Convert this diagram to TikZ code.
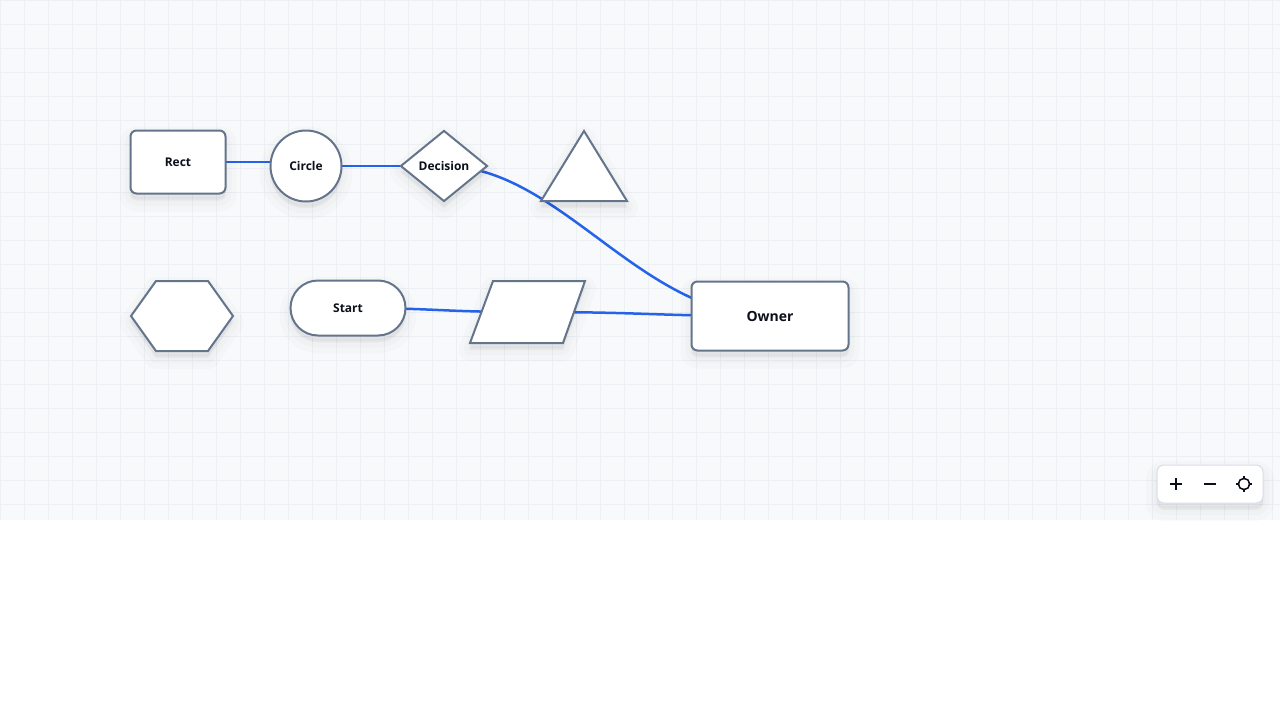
\documentclass[tikz,border=0pt]{standalone}
\usepackage{fontspec}
\setmainfont{Open Sans}
\usepackage{tikz}
\usetikzlibrary{shapes.geometric, shapes.misc}
\definecolor{edgeblue}{HTML}{2563EB}
\definecolor{nodegray}{HTML}{64748B}
\definecolor{canvasbg}{HTML}{F8F9FB}
\definecolor{gridgray}{HTML}{ECEFF4}
\definecolor{inkdark}{HTML}{0B0F19}
\definecolor{panelline}{HTML}{D8DEE7}
\pgfdeclarelayer{background}
\pgfdeclarelayer{edges}
\pgfsetlayers{background,edges,main}

\begin{document}
\begin{tikzpicture}[x={(1pt,0pt)}, y={(0pt,-1pt)},
  softshadow/.style={
    preaction={draw=black, fill=black, draw opacity=0.014, fill opacity=0.014, line width=22pt, line join=round, transform canvas={yshift=-7pt}},
    preaction={draw=black, fill=black, draw opacity=0.016, fill opacity=0.016, line width=12pt, line join=round, transform canvas={yshift=-6pt}},
    preaction={draw=black, fill=black, draw opacity=0.016, fill opacity=0.016, line width=4pt, line join=round, transform canvas={yshift=-5pt}}},
  shapebox/.style={draw=nodegray, line width=2pt, fill=white, text=inkdark, inner sep=0pt,
    font=\fontsize{12}{14}\selectfont\bfseries, softshadow},
  link/.style={draw=edgeblue, line width=2.5pt},
  icon/.style={draw=inkdark, line width=1.8pt}]
  \useasboundingbox (0,0) rectangle (1280,720);

  % canvas with grid
  \begin{pgfonlayer}{background}
    \fill[white] (0,0) rectangle (1280,720);
    \fill[canvasbg] (0,0) rectangle (1280,520);
    \foreach \gx in {0,24,...,1272}
      \draw[gridgray, line width=1pt] (\gx,0) -- (\gx,520);
    \foreach \gy in {0,24,...,504}
      \draw[gridgray, line width=1pt] (0,\gy) -- (1280,\gy);
  \end{pgfonlayer}

  % first row
  \node[shapebox, rectangle, rounded corners=6pt, minimum width=95pt, minimum height=63pt] (rect) at (178,162) {Rect};
  \node[shapebox, circle, minimum size=71pt] (circle) at (306,166) {Circle};
  \node[shapebox, diamond, aspect=1.22, minimum width=87pt, minimum height=71pt] (decision) at (444,166) {Decision};
  \draw[shapebox] (584,131) -- (627,201) -- (541,201) -- cycle;

  % second row
  \draw[shapebox] (131,316) -- (156,281) -- (208,281) -- (233,316) -- (208,351) -- (156,351) -- cycle;
  \node[shapebox, rounded rectangle, minimum width=115pt, minimum height=55pt] (start) at (348,308) {Start};
  \draw[shapebox] (493,281) -- (585,281) -- (563,343) -- (470,343) -- cycle;
  \coordinate (para) at (528,312);
  \node[shapebox, rectangle, rounded corners=6pt, minimum width=157pt, minimum height=69pt,
    font=\fontsize{14}{16}\selectfont\bfseries] (owner) at (770,316) {Owner};

  % connectors
  \begin{pgfonlayer}{edges}
    \draw[link] (rect.center) -- (rect.center -| circle.center);
    \draw[link] (circle.center) -- (decision.center);
    \draw[link] (decision.center) .. controls +(116,0) and +(-130,0) .. (owner.center);
    \draw[link] (start.center) .. controls +(90,0) and +(-90,0) .. (para);
    \draw[link] (para) .. controls +(120,0) and +(-120,0) .. (owner.center);
  \end{pgfonlayer}

  % zoom controls
  \node[draw=panelline, line width=1pt, fill=white, rectangle, rounded corners=7pt,
    minimum width=106pt, minimum height=38pt, softshadow] (zoombar) at (1210,484) {};
  \draw[icon] (1170,484) -- (1182,484);
  \draw[icon] (1176,478) -- (1176,490);
  \draw[icon] (1204,484) -- (1216,484);
  \draw[icon] (1244,484) circle[radius=5.5pt];
  \draw[icon] (1236,484) -- (1252,484);
  \draw[icon] (1244,476) -- (1244,492);
  \fill[white] (1244,484) circle[radius=4.6pt];
\end{tikzpicture}
\end{document}
